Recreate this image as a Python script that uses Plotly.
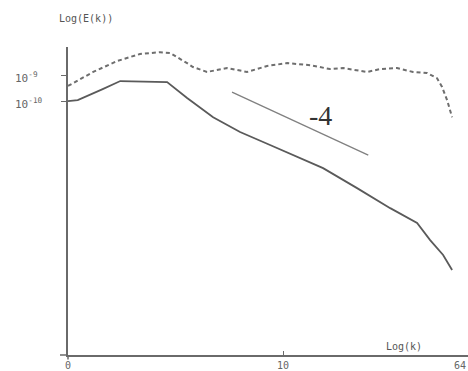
import plotly.graph_objects as go

# k values and log10(E) exponents
k_solid = [1.0, 1.11, 1.45, 1.75, 2.89, 3.58, 4.73, 6.31, 8.70, 11.13, 15.35,
           22.09, 31.5, 42.0, 48.3, 55.5, 61.1]
logE_solid = [-10.00, -9.96, -9.54, -9.23, -9.27, -9.88, -10.62, -11.19, -11.69,
              -12.08, -12.58, -13.35, -14.12, -14.69, -15.35, -15.92, -16.50]

k_dashed = [1.0, 1.31, 1.69, 2.16, 2.68, 2.98, 3.58, 3.81, 4.43, 5.49, 6.80, 8.43,
            10.44, 13.4, 16.5, 19.0, 24.6, 28.3, 33.9, 40.2, 46.7, 52.0, 54.9, 57.9, 61.1]
logE_dashed = [-9.42, -8.88, -8.46, -8.19, -8.12, -8.15, -8.54, -8.69, -8.88, -8.73,
               -8.88, -8.65, -8.54, -8.62, -8.77, -8.73, -8.88, -8.77, -8.73, -8.88,
               -8.92, -9.12, -9.46, -9.96, -10.62]

k_ref = [5.79, 24.9]
logE_ref = [-9.654, -12.077]
ref_label = "-4"

x_ticks = [1, 10]
x_ticktext = ["0", "10"]
x_end_label = "64"
y_ticks = [-9, -10]
y_ticktext = ["10<sup>-9</sup>", "10<sup>-10</sup>"]

E_solid = [10 ** v for v in logE_solid]
E_dashed = [10 ** v for v in logE_dashed]
E_ref = [10 ** v for v in logE_ref]

mono = "DejaVu Sans Mono"
axcol = "#6a6a6a"

fig = go.Figure()
fig.add_trace(go.Scatter(x=k_dashed, y=E_dashed, mode="lines",
                         line=dict(color="#6e6e6e", width=2, dash="4px,3px"),
                         showlegend=False))
fig.add_trace(go.Scatter(x=k_solid, y=E_solid, mode="lines",
                         line=dict(color="#5a5a5a", width=1.8),
                         showlegend=False))
fig.add_trace(go.Scatter(x=k_ref, y=E_ref, mode="lines",
                         line=dict(color="#808080", width=1.3),
                         showlegend=False))

fig.update_layout(
    width=468, height=371,
    margin=dict(l=68, r=0, t=47, b=16),
    paper_bgcolor="white", plot_bgcolor="white",
    xaxis=dict(type="log", range=[0, 1.86], showgrid=False, zeroline=False,
               showline=True, linecolor=axcol, linewidth=1.5,
               tickvals=x_ticks, ticktext=x_ticktext, ticks="inside",
               ticklen=4, tickcolor=axcol, tickwidth=1.2,
               tickfont=dict(family=mono, size=10, color="#666")),
    yaxis=dict(type="log", range=[-19.77, -7.92], showgrid=False, zeroline=False,
               showline=True, linecolor=axcol, linewidth=1.5,
               tickvals=[10 ** v for v in y_ticks], showticklabels=False,
               ticks="outside", ticklen=5, tickcolor=axcol, tickwidth=1.2),
)

# y tick labels (left aligned)
for v, t in zip(y_ticks, y_ticktext):
    fig.add_annotation(xref="paper", yref="y", x=-0.1375, y=v, text=t,
                       xanchor="left", yanchor="middle", showarrow=False, yshift=-2,
                       font=dict(family=mono, size=11, color="#666"))

fig.add_annotation(xref="paper", yref="paper", x=0.98, y=0, yshift=-10,
                   text=x_end_label, xanchor="center", yanchor="middle",
                   showarrow=False,
                   font=dict(family=mono, size=10, color="#666"))

# axis titles
fig.add_annotation(xref="paper", yref="paper", x=0.045, y=1.094, text="Log(E(k))",
                   xanchor="center", yanchor="middle", showarrow=False,
                   font=dict(family=mono, size=10, color="#555"))
fig.add_annotation(xref="paper", yref="paper", x=0.84, y=0.026, text="Log(k)",
                   xanchor="center", yanchor="middle", showarrow=False,
                   font=dict(family=mono, size=10, color="#555"))

# slope label
fig.add_annotation(xref="paper", yref="paper", x=0.63, y=0.779, text=ref_label,
                   xanchor="center", yanchor="middle", showarrow=False,
                   font=dict(family="Liberation Serif", size=28, color="#333"))

# axis overshoots
fig.add_shape(type="line", xref="paper", yref="paper", x0=-0.02, x1=0, y0=0, y1=0,
              line=dict(color=axcol, width=1.5))
fig.add_shape(type="line", xref="paper", yref="paper", x0=0, x1=0, y0=-0.015, y1=0,
              line=dict(color=axcol, width=1.5))

fig.write_html(
    "out.html",
    config={"displayModeBar": False},
    post_script="document.body.style.margin='0';document.body.style.overflow='hidden';",
)
